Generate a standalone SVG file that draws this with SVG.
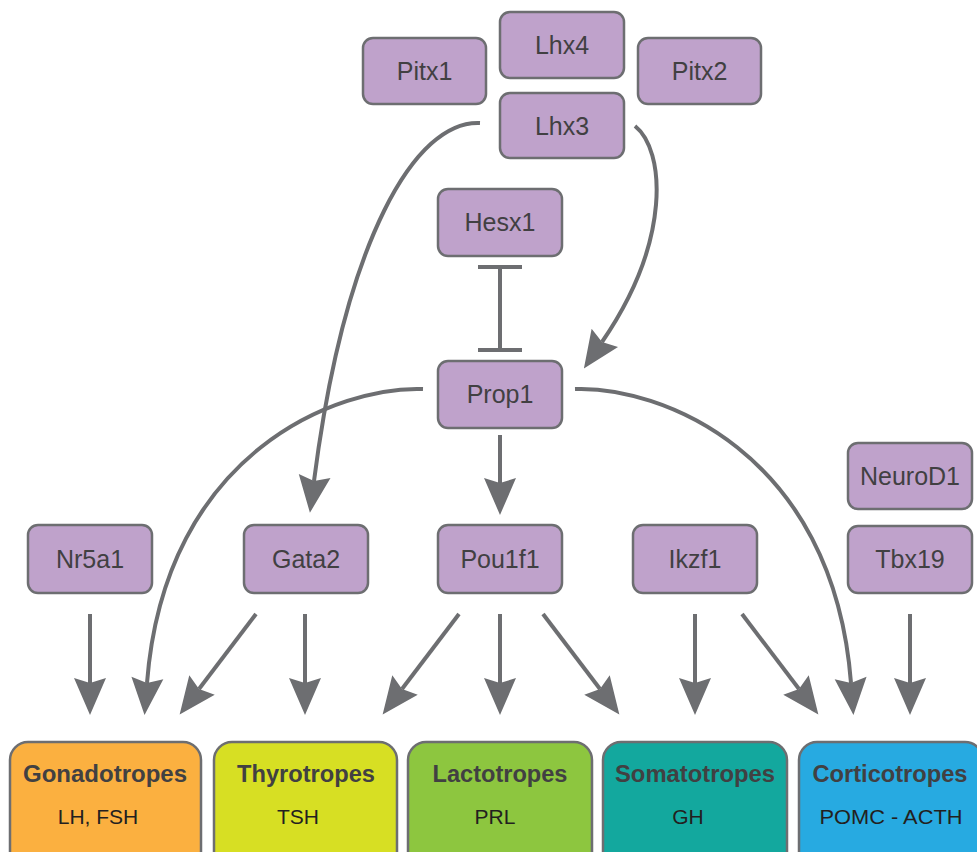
<svg xmlns="http://www.w3.org/2000/svg" width="977" height="852" viewBox="0 0 977 852">
<style>
.n rect{fill:#BFA2CB;stroke:#6D6E71;stroke-width:2.5}
.n text{font-family:"Liberation Sans",Arial,sans-serif;font-size:25px;fill:#414042;text-anchor:middle}
.c rect{stroke:#6D6E71;stroke-width:2.5}
.c .t{font-family:"Liberation Sans",Arial,sans-serif;font-size:23px;font-weight:bold;fill:#414042;text-anchor:middle}
.c .s{font-family:"Liberation Sans",Arial,sans-serif;font-size:21px;fill:#231F20;text-anchor:middle}
.e path,.e line{fill:none;stroke:#6D6E71;stroke-width:4}
.e .a{marker-end:url(#ah)}
</style>
<defs>
<marker id="ah" markerUnits="userSpaceOnUse" viewBox="-8 -18 42 36" markerWidth="42" markerHeight="36" refX="0" refY="0" orient="auto" overflow="visible">
<path d="M-5,-16 L32,0 L-5,16 L0,0 Z" fill="#6D6E71"/>
</marker>
</defs>
<rect width="977" height="852" fill="#FFFFFF"/>

<g class="e" id="connectors">
<path class="a" d="M480,123 C415,120 345,240 314,481"/>
<path class="a" d="M635,126 C665,150 672,240 602,342"/>
<path class="a" d="M423,389 C340,386 165,450 147,683"/>
<path class="a" d="M575,389 C658,386 833,450 851,683"/>
<line class="a" x1="500" y1="435" x2="500" y2="483"/>
<line x1="500" y1="267" x2="500" y2="350"/>
<line x1="478" y1="267" x2="522" y2="267"/>
<line x1="478" y1="350" x2="522" y2="350"/>
<line class="a" x1="90" y1="614" x2="90" y2="683"/>
<line class="a" x1="256" y1="614" x2="199" y2="689"/>
<line class="a" x1="305" y1="614" x2="305" y2="683"/>
<line class="a" x1="459" y1="614" x2="402" y2="689"/>
<line class="a" x1="500" y1="614" x2="500" y2="683"/>
<line class="a" x1="543" y1="614" x2="600" y2="689"/>
<line class="a" x1="695" y1="614" x2="695" y2="683"/>
<line class="a" x1="742" y1="614" x2="799" y2="689"/>
<line class="a" x1="910" y1="614" x2="910" y2="683"/>
</g>

<g class="n" id="pitx1"><rect x="363" y="38" width="123" height="66" rx="10"/><text x="424.5" y="80">Pitx1</text></g>
<g class="n" id="lhx4"><rect x="500" y="12" width="124" height="66" rx="10"/><text x="562" y="54">Lhx4</text></g>
<g class="n" id="pitx2"><rect x="638" y="38" width="123" height="66" rx="10"/><text x="699.5" y="80">Pitx2</text></g>
<g class="n" id="lhx3"><rect x="500" y="93" width="124" height="65" rx="10"/><text x="562" y="135">Lhx3</text></g>
<g class="n" id="hesx1"><rect x="438" y="189" width="124" height="67" rx="10"/><text x="500" y="231">Hesx1</text></g>
<g class="n" id="prop1"><rect x="438" y="361" width="124" height="67" rx="10"/><text x="500" y="403">Prop1</text></g>
<g class="n" id="nr5a1"><rect x="28" y="525" width="124" height="68" rx="10"/><text x="90" y="568">Nr5a1</text></g>
<g class="n" id="gata2"><rect x="244" y="525" width="124" height="68" rx="10"/><text x="306" y="568">Gata2</text></g>
<g class="n" id="pou1f1"><rect x="438" y="525" width="124" height="68" rx="10"/><text x="500" y="568">Pou1f1</text></g>
<g class="n" id="ikzf1"><rect x="633" y="525" width="124" height="68" rx="10"/><text x="695" y="568">Ikzf1</text></g>
<g class="n" id="neurod1"><rect x="848" y="443" width="124" height="66" rx="10"/><text x="910" y="485">NeuroD1</text></g>
<g class="n" id="tbx19"><rect x="848" y="526" width="124" height="67" rx="10"/><text x="910" y="568">Tbx19</text></g>

<g class="c" id="gonadotropes"><rect x="10" y="742" width="191" height="130" rx="18" fill="#FBB040"/><text class="t" x="105" y="782" textLength="164" lengthAdjust="spacingAndGlyphs">Gonadotropes</text><text class="s" x="98" y="824">LH, FSH</text></g>
<g class="c" id="thyrotropes"><rect x="214" y="742" width="183" height="130" rx="18" fill="#D7DF23"/><text class="t" x="306" y="782" textLength="138" lengthAdjust="spacingAndGlyphs">Thyrotropes</text><text class="s" x="298" y="824">TSH</text></g>
<g class="c" id="lactotropes"><rect x="408" y="742" width="184" height="130" rx="18" fill="#8DC63F"/><text class="t" x="500" y="782" textLength="135" lengthAdjust="spacingAndGlyphs">Lactotropes</text><text class="s" x="495" y="824">PRL</text></g>
<g class="c" id="somatotropes"><rect x="603" y="742" width="184" height="130" rx="18" fill="#13A89E"/><text class="t" x="695" y="782" textLength="160" lengthAdjust="spacingAndGlyphs">Somatotropes</text><text class="s" x="688" y="824">GH</text></g>
<g class="c" id="corticotropes"><rect x="799" y="742" width="184" height="130" rx="18" fill="#27AAE1"/><text class="t" x="890" y="782" textLength="155" lengthAdjust="spacingAndGlyphs">Corticotropes</text><text class="s" x="891" y="824" textLength="143" lengthAdjust="spacingAndGlyphs">POMC - ACTH</text></g>
</svg>
